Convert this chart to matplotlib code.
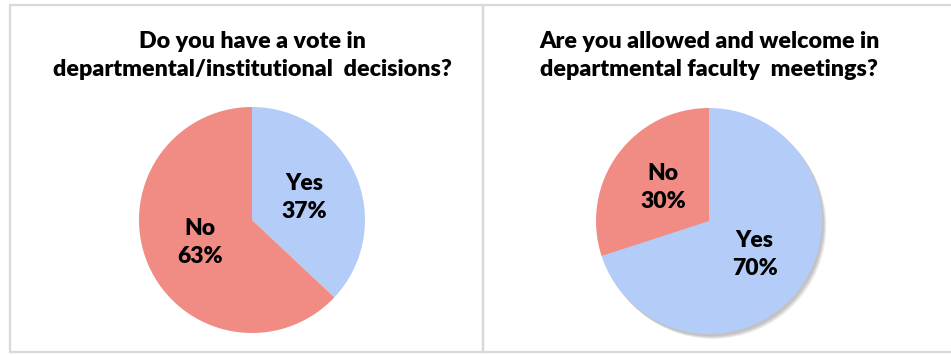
import matplotlib
matplotlib.use("Agg")
import matplotlib.pyplot as plt
from matplotlib.patches import Rectangle, Circle

W, H = 951, 355

# survey answers
vote_title = "Do you have a vote in\ndepartmental/institutional  decisions?"
vote_labels = ["Yes", "No"]
vote_values = [37, 63]

meet_title = "Are you allowed and welcome in\ndepartmental faculty  meetings?"
meet_labels = ["Yes", "No"]
meet_values = [70, 30]

blue = "#b3cdf8"
red = "#f18c84"
frame = "#d9d9d9"

plt.rcParams['font.family'] = ['Lato', 'DejaVu Sans']

fig = plt.figure(figsize=(W / 100, H / 100), dpi=100)


def fx(x):
    return x / W


def fy(y):
    return 1 - y / H


# panel borders
for x0, x1 in [(10, 483), (483, 960)]:
    fig.add_artist(Rectangle((fx(x0), fy(352)), fx(x1) - fx(x0), fy(5) - fy(352),
                             transform=fig.transFigure, fill=False,
                             edgecolor=frame, lw=1.6))

R = 113  # pie radius in pixels


def draw_pie(cx, cy, labels, values, title, shadow=False):
    pad = 1.15
    half = R * pad
    ax = fig.add_axes([fx(cx - half), fy(cy + half), 2 * half / W, 2 * half / H])
    if shadow:
        for k in range(5):
            ax.add_patch(Circle((0.015 + 0.006 * k, -0.02 - 0.006 * k), 1.0,
                                color='k', alpha=0.05, lw=0, zorder=0))
    ax.pie(values, labels=[f"{l}\n{v}%" for l, v in zip(labels, values)],
           colors=[blue, red], startangle=90, counterclock=False,
           labeldistance=0.5,
           wedgeprops=dict(linewidth=0),
           textprops=dict(fontsize=16.5, fontweight='heavy', ha='center',
                          va='center', linespacing=1.4, color='black'))
    ax.set_xlim(-pad, pad)
    ax.set_ylim(-pad, pad)
    ax.axis('off')
    fig.text(fx(cx), fy(55.5), title, ha='center', va='center', fontsize=16.75,
             fontweight='heavy', linespacing=1.42, color='black')


draw_pie(252, 220, vote_labels, vote_values, vote_title)
draw_pie(709, 221, meet_labels, meet_values, meet_title, shadow=True)

fig.savefig("out.png", dpi=100, facecolor='white')
